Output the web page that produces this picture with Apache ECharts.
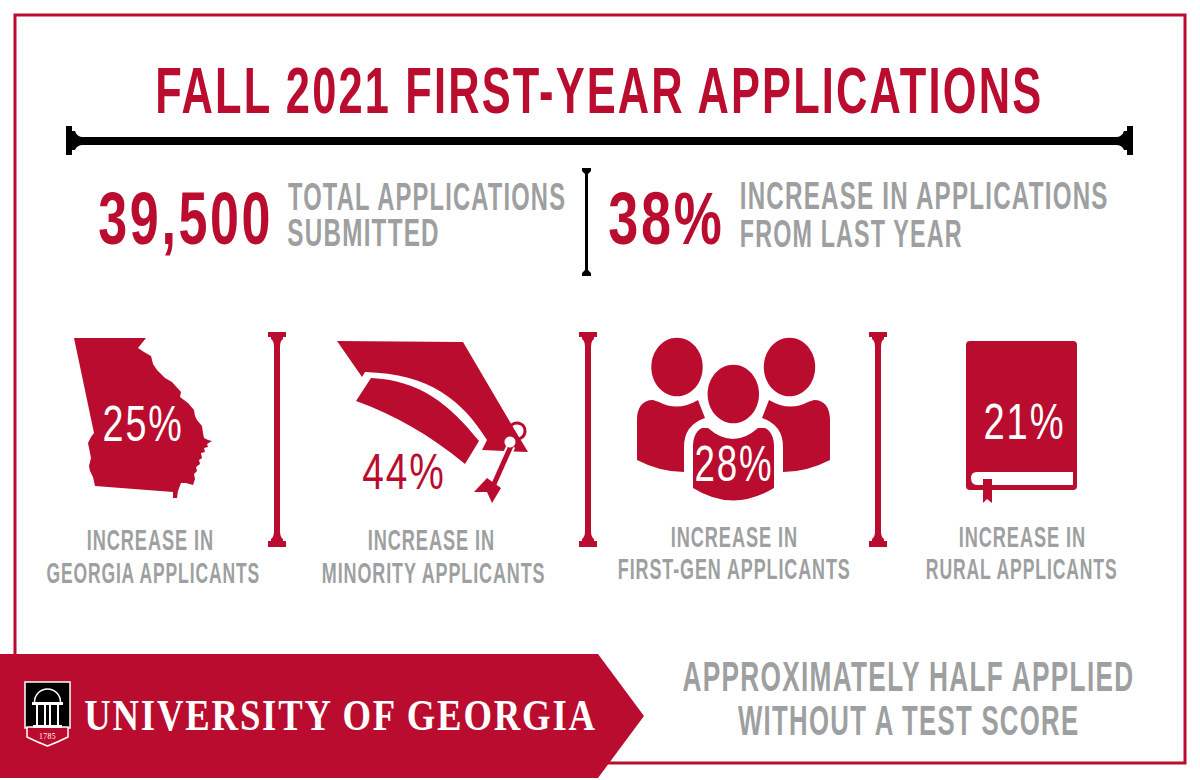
<!DOCTYPE html>
<html>
<head>
<meta charset="utf-8">
<title>Fall 2021 First-Year Applications</title>
<style>
    html, body { margin: 0; padding: 0; background: #fff; }
    #chart { width: 1200px; height: 780px; }
    #chart text { letter-spacing: 0.05em; }
</style>
<script src="https://cdn.jsdelivr.net/npm/echarts@6/dist/echarts.min.js"></script>
</head>
<body>
<div id="chart"></div>
<script>
const titleText = 'FALL 2021 FIRST-YEAR APPLICATIONS';
const totalApplications = 39500;
const totalLabel = ['TOTAL APPLICATIONS', 'SUBMITTED'];
const lastYearIncrease = 38;
const lastYearLabel = ['INCREASE IN APPLICATIONS', 'FROM LAST YEAR'];
const increaseValues = [25, 44, 28, 21];
const increaseHeading = 'INCREASE IN';
const increaseGroups = ['GEORGIA APPLICANTS', 'MINORITY APPLICANTS', 'FIRST-GEN APPLICANTS', 'RURAL APPLICANTS'];
const footerLines = ['APPROXIMATELY HALF APPLIED', 'WITHOUT A TEST SCORE'];
const bannerText = 'UNIVERSITY OF GEORGIA';
const sealYear = '1785';

const RED = '#ba0c2f';
const GREY = '#9d9fa0';
const SANS = '"Liberation Sans Narrow", "Liberation Sans", sans-serif';
const SERIF = '"Liberation Serif", serif';
const TRACKING = 0.05; // same as the letter-spacing in the css above
const BASELINE_SHIFT = 0.08; // svg central baseline sits lower than canvas middle

const ctx = document.createElement('canvas').getContext('2d');
ctx.textBaseline = 'middle';

// text squeezed to the box it has in the picture, no condensed face is installed
function fitText(text, left, right, capTop, capBottom, fill, weight, family) {
    weight = weight || 'bold';
    family = family || SANS;
    ctx.letterSpacing = '0px';
    ctx.font = `${weight} 100px ${family}`;
    const h = ctx.measureText('H');
    const size = (capBottom - capTop) / (h.actualBoundingBoxAscent + h.actualBoundingBoxDescent) * 100;
    const font = `${weight} ${size}px ${family}`;
    ctx.font = font;
    const cap = ctx.measureText('H');
    ctx.letterSpacing = (size * TRACKING) + 'px';
    const m = ctx.measureText(text);
    const inkWidth = m.actualBoundingBoxLeft + m.actualBoundingBoxRight;
    const scaleX = (right - left) / inkWidth;
    return {
        type: 'text',
        x: left + m.actualBoundingBoxLeft * scaleX,
        y: (capTop + capBottom) / 2 + (cap.actualBoundingBoxAscent - cap.actualBoundingBoxDescent) / 2 - size * BASELINE_SHIFT,
        scaleX: scaleX,
        z: 10,
        style: { text: text, font: font, fill: fill, align: 'left', verticalAlign: 'middle' }
    };
}

function shape(name, d, fill, extra) {
    echarts.graphic.registerShape(name, echarts.graphic.extendPath(d));
    return Object.assign({ type: name, style: { fill: fill } }, extra || {});
}

// red pillar between the four groups
function pillar(name, x) {
    const d = `M${x - 9} 332 H${x + 9} V337 H${x + 6} V339 Q${x + 3} 341 ${x + 3} 347 V531 ` +
        `Q${x + 3} 537 ${x + 6} 539 V541 H${x + 9} V547 H${x - 9} V541 H${x - 6} V539 Q${x - 3} 537 ${x - 3} 531 ` +
        `V347 Q${x - 3} 341 ${x - 6} 339 V337 H${x - 9} Z`;
    return shape(name, d, RED);
}

const georgiaPath = 'M74 338 L146 338 L138 348 L144 352 L151 356 L153 364 L157 370 L165 378 L172 382 L181 392 L180 397 ' +
    'L188 403 L194 410 L195 416 L197 420 L202 426 L203 433 L204 438 L208 440 L212 441 L207 444 L208 447 L204 448 ' +
    'L205 452 L201 453 L202 458 L199 460 L200 464 L196 467 L197 471 L194 474 L195 479 L193 485 L186 483 L181 483 ' +
    'L178 491 L177 498 L173 498 L173 492 L95 486 L93 477 L90 471 L89 466 L91 458 L89 448 L88 443 L91 437 L94 433 Z';
const capPath = 'M337 341 L463 342 L510 422 L528 452 L482 450 L487 440 C462 400 430 374 365 372 L362 377 Z';
const boardPath = 'M371 378 C420 380 450 405 479 441 L465 464 C430 435 395 415 356 401 Z';
const tasselHead = 'M487 478 L474 492 L487 492 L492 503 L501 488 Z';
const leftBody = 'M637 460 V420 C637 408 642 400 653 400 L659 402 Q678 412 698 400 L705 418 Q684 425 684 447 V472 Q660 472 637 460 Z';
const rightBody = 'M830 460 V420 C830 408 825 400 814 400 L808 402 Q789 412 769 400 L762 418 Q783 425 783 447 V472 Q807 472 830 460 Z';
const centreBody = 'M693 488 V447 C693 437 696 431 702 428 L708 428 Q733 450 758 428 L765 428 C771 431 774 437 774 447 V488 Q733 513 693 488 Z';
const pageStrip = 'M977 472 H1073 V485 H977 Q971 485 971 478 Q971 472 977 472 Z';
const bookmark = 'M983 479 H992 V503 L987 499 L983 503 Z';
const sealShield = 'M27 727 H68 V737 Q58 742 47.5 746 Q37 742 27 737 Z';

const barEndLeft = 'M66 126 H72 V131 H75 Q77 137 83 137 H600 V145 H83 Q77 145 75 150 H72 V155 H66 Z';
const barEndRight = 'M1133 126 H1127 V131 H1124 Q1122 137 1116 137 H600 V145 H1116 Q1122 145 1124 150 H1127 V155 H1133 Z';
const smallDivider = 'M582 168 H591 V171 L588 174 V270 L591 273 V276 H582 V273 L585 270 V174 L582 171 Z';

const elements = [
    // outer frame, the banner covers its lower left corner
    { type: 'rect', shape: { x: 15, y: 15, width: 1170, height: 748 }, style: { fill: '#fff', stroke: RED, lineWidth: 3 } },

    fitText(titleText, 158, 1042, 69, 114, RED),
    shape('barLeft', barEndLeft, '#000'),
    shape('barRight', barEndRight, '#000'),

    fitText(totalApplications.toLocaleString('en-US'), 99, 269, 193, 245, RED),
    fitText(totalLabel[0], 288, 566, 183, 210, GREY),
    fitText(totalLabel[1], 288, 438, 220, 247, GREY),
    shape('smallDivider', smallDivider, '#000'),
    fitText(lastYearIncrease + '%', 609, 721, 193, 245, RED),
    fitText(lastYearLabel[0], 741, 1108, 183, 210, GREY),
    fitText(lastYearLabel[1], 741, 962, 220, 247, GREY),

    pillar('pillarA', 277),
    pillar('pillarB', 588),
    pillar('pillarC', 878),

    // Georgia
    shape('georgia', georgiaPath, RED),
    fitText(increaseValues[0] + '%', 104, 181, 406, 441, '#fff', 'normal'),
    fitText(increaseHeading, 88, 212, 530, 551, GREY),
    fitText(increaseGroups[0], 47, 260, 563, 584, GREY),

    // graduation cap
    shape('capTop', capPath, RED),
    shape('capBoard', boardPath, RED),
    { type: 'circle', shape: { cx: 517, cy: 431, r: 8 }, style: { fill: 'none', stroke: RED, lineWidth: 3 } },
    { type: 'line', shape: { x1: 511, y1: 446, x2: 494, y2: 484 }, style: { stroke: '#fff', lineWidth: 9 } },
    { type: 'line', shape: { x1: 511, y1: 446, x2: 494, y2: 484 }, style: { stroke: RED, lineWidth: 5 }, z: 2 },
    { type: 'circle', shape: { cx: 510, cy: 442, r: 5.5 }, style: { fill: '#fff' }, z: 3 },
    shape('tasselHead', tasselHead, RED, { z: 2 }),
    fitText(increaseValues[1] + '%', 363, 443, 455, 490, RED, 'normal'),
    fitText(increaseHeading, 369, 493, 530, 551, GREY),
    fitText(increaseGroups[1], 323, 545, 563, 584, GREY),

    // three people
    { type: 'ellipse', shape: { cx: 677, cy: 367, rx: 25.7, ry: 29.3 }, style: { fill: RED } },
    { type: 'ellipse', shape: { cx: 789.5, cy: 367, rx: 25.7, ry: 29.3 }, style: { fill: RED } },
    { type: 'ellipse', shape: { cx: 733.3, cy: 394, rx: 25.7, ry: 29.3 }, style: { fill: RED } },
    shape('leftBody', leftBody, RED),
    shape('rightBody', rightBody, RED),
    shape('centreBody', centreBody, RED),
    fitText(increaseValues[2] + '%', 696, 771, 447, 481, '#fff', 'normal'),
    fitText(increaseHeading, 672, 796, 527, 548, GREY),
    fitText(increaseGroups[2], 619, 850, 559, 580, GREY),

    // book
    { type: 'rect', shape: { x: 966, y: 341, width: 111, height: 149, r: 4 }, style: { fill: RED } },
    shape('pageStrip', pageStrip, '#fff'),
    shape('bookmark', bookmark, RED),
    fitText(increaseValues[3] + '%', 985, 1063, 405, 439, '#fff', 'normal'),
    fitText(increaseHeading, 960, 1084, 527, 548, GREY),
    fitText(increaseGroups[3], 927, 1117, 559, 580, GREY),

    // banner
    { type: 'polygon', shape: { points: [[0, 654], [598, 654], [644, 716], [598, 778], [0, 778]] }, style: { fill: RED }, z: 5 },
    fitText(bannerText, 85, 598, 701, 730, '#fff', 'bold', SERIF),

    // seal
    { type: 'rect', shape: { x: 25, y: 682, width: 45, height: 46 }, style: { fill: '#000', stroke: '#fff', lineWidth: 1.5 }, z: 6 },
    shape('sealShield', sealShield, RED, { z: 6, style: { fill: RED, stroke: '#fff', lineWidth: 1.5 } }),
    { type: 'arc', shape: { cx: 47.5, cy: 702, r: 13, startAngle: Math.PI, endAngle: 0, clockwise: true }, style: { stroke: '#fff', lineWidth: 1.5, fill: 'none' }, z: 7 },
    { type: 'rect', shape: { x: 32, y: 702, width: 31, height: 3 }, style: { fill: '#fff' }, z: 7 },
    { type: 'rect', shape: { x: 36, y: 705, width: 2, height: 22 }, style: { fill: '#fff' }, z: 7 },
    { type: 'rect', shape: { x: 44, y: 705, width: 2, height: 22 }, style: { fill: '#fff' }, z: 7 },
    { type: 'rect', shape: { x: 49, y: 705, width: 2, height: 22 }, style: { fill: '#fff' }, z: 7 },
    { type: 'rect', shape: { x: 57, y: 705, width: 2, height: 22 }, style: { fill: '#fff' }, z: 7 },
    { type: 'rect', shape: { x: 33, y: 725, width: 29, height: 3 }, style: { fill: '#fff' }, z: 7 },
    fitText(sealYear, 39, 56, 733, 739, '#fff', 'normal', SERIF),

    fitText(footerLines[0], 683, 1134, 662, 692, GREY),
    fitText(footerLines[1], 738, 1079, 706, 736, GREY)
];

// svg renderer so the css letter-spacing reaches the text
const chart = echarts.init(document.getElementById('chart'), null, { renderer: 'svg' });
chart.setOption({
    backgroundColor: '#fff',
    animation: false,
    graphic: { elements: elements }
});
</script>
</body>
</html>
